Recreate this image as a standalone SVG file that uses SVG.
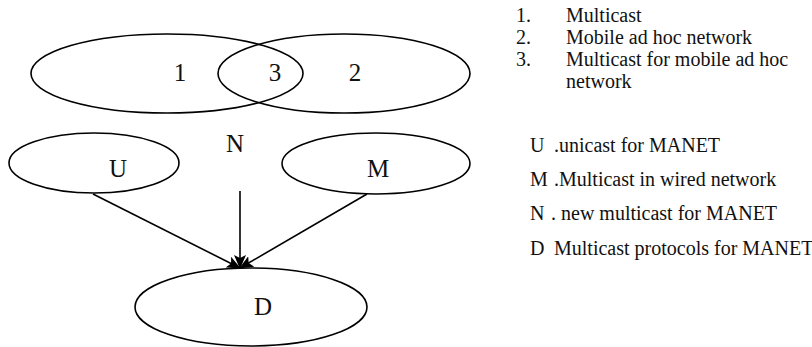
<svg xmlns="http://www.w3.org/2000/svg" width="812" height="347" viewBox="0 0 812 347">
<style>
.sh{fill:none;stroke:#000;stroke-width:1.6}
.big{font-family:"Liberation Serif","Times New Roman",serif;font-size:25px;fill:#111}
.lg{font-family:"Liberation Serif","Times New Roman",serif;font-size:20px;fill:#111}
.ln{stroke:#000;stroke-width:1.6;fill:none}
</style>
<defs>
<marker id="ah" viewBox="0 0 14 12" refX="13" refY="6" markerWidth="14" markerHeight="12" markerUnits="userSpaceOnUse" orient="auto">
<path d="M0,0 L14,6 L0,12 L3,6 z" fill="#000"/>
</marker>
</defs>
<rect width="812" height="347" fill="#fff"/>
<g id="node-1"><ellipse class="sh" cx="167" cy="73.5" rx="136" ry="39.5"/><text class="big" x="180" y="81" text-anchor="middle">1</text></g>
<g id="node-2"><ellipse class="sh" cx="344" cy="73.5" rx="126" ry="39.5"/><text class="big" x="355" y="81" text-anchor="middle">2</text></g>
<g id="node-3"><text class="big" x="275" y="81" text-anchor="middle">3</text></g>
<g id="node-U"><ellipse class="sh" cx="94" cy="163" rx="85" ry="30"/><text class="big" x="118" y="177" text-anchor="middle">U</text></g>
<g id="node-N"><text class="big" x="235" y="152" text-anchor="middle">N</text></g>
<g id="node-M"><ellipse class="sh" cx="376" cy="163.5" rx="94" ry="30.5"/><text class="big" x="378" y="177" text-anchor="middle">M</text></g>
<g id="node-D"><ellipse class="sh" cx="251" cy="307" rx="116" ry="39"/><text class="big" x="263" y="315" text-anchor="middle">D</text></g>
<g id="connectors">
<line class="ln" x1="93" y1="194" x2="240" y2="268" marker-end="url(#ah)"/>
<line class="ln" x1="240" y1="191" x2="240" y2="268" marker-end="url(#ah)"/>
<line class="ln" x1="367" y1="194" x2="240" y2="268" marker-end="url(#ah)"/>
</g>
<g id="legend" class="lg">
<text x="516" y="22">1.</text><text x="566" y="22">Multicast</text>
<text x="516" y="44">2.</text><text x="566" y="44">Mobile ad hoc network</text>
<text x="516" y="66">3.</text><text x="566" y="66">Multicast for mobile ad hoc</text>
<text x="566" y="88">network</text>
<text x="530" y="152">U</text><text x="554" y="152">.unicast for MANET</text>
<text x="530" y="186">M</text><text x="554" y="186">.Multicast in wired network</text>
<text x="530" y="220">N</text><text x="551" y="220">. new multicast for MANET</text>
<text x="530" y="255">D</text><text x="554" y="255">Multicast protocols for MANET</text>
</g>
</svg>
